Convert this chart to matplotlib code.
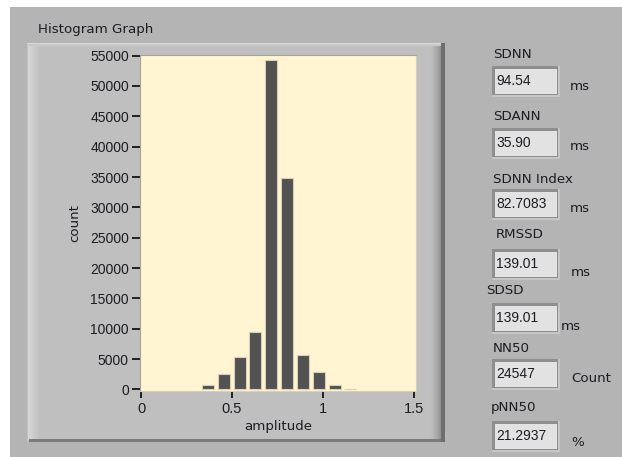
import matplotlib
matplotlib.use("Agg")
import matplotlib.pyplot as plt
from matplotlib.patches import Rectangle

# histogram of beat-to-beat amplitude
bin_centers = [0.367, 0.455, 0.543, 0.628, 0.716, 0.804, 0.890, 0.979, 1.064, 1.148]
counts = [700, 2500, 5400, 9400, 54200, 34800, 5600, 2900, 750, 150]
y_ticks = list(range(0, 55001, 5000))
x_ticks = [0, 0.5, 1, 1.5]
x_tick_labels = ["0", "0.5", "1", "1.5"]

# HRV indicators shown at the right
stat_names = ["SDNN", "SDANN", "SDNN Index", "RMSSD", "SDSD", "NN50", "pNN50"]
stat_values = ["94.54", "35.90", "82.7083", "139.01", "139.01", "24547", "21.2937"]
stat_units = ["ms", "ms", "ms", "ms", "ms", "Count", "%"]

W, H = 622, 457
WORD_FONT = "DejaVu Sans"
NUM_FONT = "Liberation Sans"
TXT = "#1c1c24"

fig = plt.figure(figsize=(W / 100, H / 100), dpi=100)
fig.patch.set_facecolor("#b4b4b4")


def rect(x0, y0, x1, y1, color, z=0):
    fig.add_artist(Rectangle((x0 / W, 1 - y1 / H), (x1 - x0) / W, (y1 - y0) / H,
                             transform=fig.transFigure, facecolor=color,
                             edgecolor="none", zorder=z))


def label(x, y, s, size=9.6, family=WORD_FONT, ha="left"):
    fig.text(x / W, 1 - y / H, s, ha=ha, va="center", fontsize=size,
             family=family, color=TXT)


# white margin strips
rect(0, 0, W, 7, "white")
rect(0, 0, 10, H, "white")

# raised graph panel
rect(27, 43, 445, 442, "#bfbfbf")
left_shade = ["#d6d6d6", "#d4d4d4", "#d2d2d2", "#d0d0d0", "#cecece", "#cccccc",
              "#cacaca", "#c8c8c8", "#c6c6c6", "#c4c4c4", "#c2c2c2", "#c0c0c0"]
for i, c in enumerate(left_shade):
    rect(28 + i, 46, 29 + i, 440, c)
right_shade = ["#bdbdbd", "#b9b9b9", "#b5b5b5", "#b1b1b1", "#adadad", "#a9a9a9",
               "#a5a5a5", "#a0a0a0", "#9a9a9a", "#949494"]
for i, c in enumerate(right_shade):
    rect(431 + i, 46, 432 + i, 440, c)
rect(441, 43, 445, 442, "#6e6e6e")
rect(27, 43, 441, 46, "#c9c9c9")
rect(27, 43, 441, 44, "#d8d8d8")
rect(29, 439, 441, 442, "#7a7a7a")

label(38, 30, "Histogram Graph")

ax = fig.add_axes([140 / W, 1 - 391 / H, 276 / W, 336 / H])
ax.set_facecolor("#fff5d2")
ax.bar(bin_centers, counts, width=0.066, color="#525252",
       edgecolor="#d8d0b8", linewidth=0.8, zorder=3)
ax.set_xlim(-0.0055, 1.511)
ax.set_ylim(-250, 55100)
ax.set_xticks(x_ticks)
ax.set_xticklabels(x_tick_labels)
ax.set_yticks(y_ticks)
ax.set_yticklabels([str(v) for v in y_ticks])
for name, sp in ax.spines.items():
    sp.set_color("#a9a38f" if name in ("top", "left") else "#d6cfb8")
    sp.set_linewidth(0.8)
ax.tick_params(axis="y", length=6, width=1.4, color="#202020", pad=2,
               labelsize=10, labelcolor=TXT)
ax.tick_params(axis="x", length=5, width=1.4, color="#202020", pad=3,
               labelsize=10.5, labelcolor=TXT)
for t in ax.get_xticklabels() + ax.get_yticklabels():
    t.set_family(NUM_FONT)
ax.set_xlabel("amplitude", fontsize=9.6, family=WORD_FONT, color=TXT, labelpad=3)
ax.set_ylabel("count", fontsize=9.6, family=WORD_FONT, color=TXT, labelpad=6)

# indicator boxes
label_y = [54, 117, 179, 235, 291, 348, 408]
box_y = [66, 128, 189, 249, 303, 359, 421]
unit_y = [86, 147, 208, 273, 326, 378, 442]
label_x = [493, 493, 493, 496, 486, 493, 491]
unit_x = [570, 570, 570, 571, 561, 571, 571]
for i in range(len(stat_names)):
    label(label_x[i], label_y[i], stat_names[i])
    y0 = box_y[i]
    x0, x1, y1 = 492, 560, y0 + 31
    rect(x0, y0, x1, y1, "#c6c6c6", z=1)
    rect(x0, y0, x1 - 2, y1 - 2, "#8e8e8e", z=1)
    rect(x0 + 3, y0 + 3, x1 - 3, y1 - 3, "#e2e2e2", z=1)
    label(x0 + 4, y0 + 15, stat_values[i], size=10, family=NUM_FONT)
    label(unit_x[i], unit_y[i], stat_units[i])

fig.savefig("out.png", dpi=100, facecolor=fig.get_facecolor())
